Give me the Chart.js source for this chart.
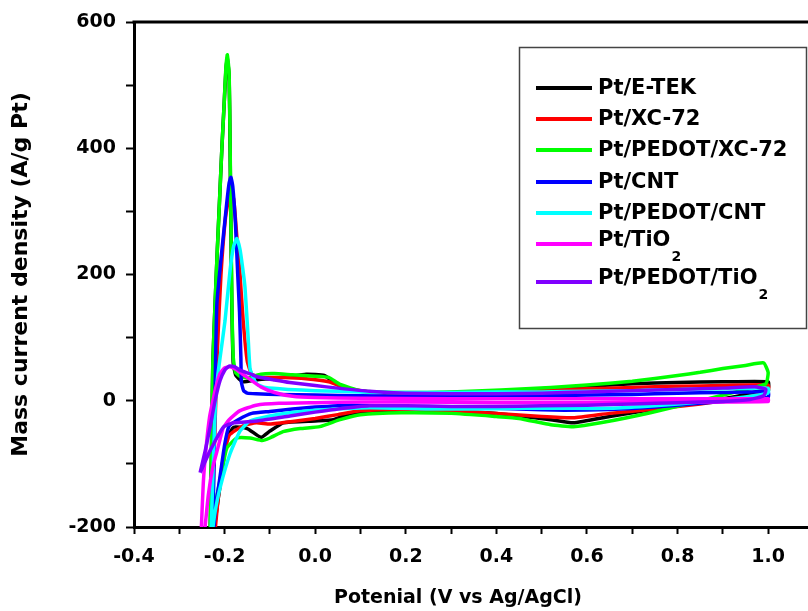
<!DOCTYPE html>
<html>
<head>
<meta charset="utf-8">
<script src="https://cdn.jsdelivr.net/npm/chart.js@4.4.1/dist/chart.umd.min.js"></script>
<style>
  body { margin: 0; background: #fff; }
</style>
</head>
<body>
<canvas id="cv" width="808" height="611"></canvas>
<script>
/* Series (potencial en V vs Ag/AgCl, corriente en A/g Pt) */
const nombres = ["Pt/E-TEK", "Pt/XC-72", "Pt/PEDOT/XC-72", "Pt/CNT", "Pt/PEDOT/CNT", "Pt/TiO2", "Pt/PEDOT/TiO2"];
const colores = ["#000000", "#ff0000", "#00ff00", "#0000ff", "#00ffff", "#ff00ff", "#8000ff"];

const etekV = [-0.232, -0.229, -0.226, -0.221, -0.216, -0.211, -0.206, -0.201, -0.197, -0.194, -0.190, -0.188, -0.186, -0.184, -0.181, -0.175, -0.16, -0.13, -0.10, -0.06, -0.02, 0.02, 0.05, 0.10, 0.2, 0.3, 0.4, 0.5, 0.6, 0.7, 0.8, 0.9, 1.0,
               1.0, 0.95, 0.85, 0.75, 0.65, 0.57, 0.52, 0.45, 0.4, 0.3, 0.2, 0.12, 0.07, 0.04, 0.0, -0.07, -0.10, -0.12, -0.15, -0.18, -0.195, -0.205, -0.215, -0.225];
const etekI = [-214, -80, 60, 154, 240, 320, 400, 470, 525, 542, 515, 410, 270, 150, 60, 40, 30, 33, 35, 38, 42, 40, 25, 15, 12, 12, 15, 19, 23, 27, 29, 30, 30,
               20, 10, -3, -13, -25, -35, -30, -24, -20, -17, -15, -17, -22, -30, -32, -35, -48, -58, -44, -42, -60, -110, -160, -214];

const xc72V = [-0.228, -0.222, -0.216, -0.208, -0.198, -0.188, -0.180, -0.173, -0.166, -0.159, -0.150, -0.140, -0.12, -0.07, -0.02, 0.03, 0.07, 0.12, 0.2, 0.3, 0.4, 0.5, 0.6, 0.7, 0.8, 0.9, 1.0,
               1.0, 0.95, 0.85, 0.75, 0.65, 0.57, 0.5, 0.4, 0.3, 0.2, 0.1, 0.05, 0.0, -0.05, -0.10, -0.13, -0.16, -0.19, -0.205, -0.215, -0.222];
const xc72I = [-214, -60, 80, 200, 290, 330, 320, 260, 200, 127, 63, 42, 37, 37, 35, 30, 20, 14, 12, 13, 15, 17, 19, 21, 23, 24, 25,
               15, 5, -5, -13, -20, -27, -25, -20, -16, -14, -16, -22, -28, -33, -37, -35, -40, -55, -100, -160, -214];

const pedotXcV = [-0.232, -0.229, -0.226, -0.221, -0.216, -0.211, -0.206, -0.201, -0.197, -0.194, -0.190, -0.188, -0.186, -0.184, -0.181, -0.176, -0.165, -0.15, -0.12, -0.09, -0.05, 0.0, 0.03, 0.055, 0.1, 0.19, 0.3, 0.41, 0.52, 0.6, 0.7, 0.8, 0.85, 0.9, 0.95, 0.99, 1.0, 0.995,
                  0.94, 0.85, 0.74, 0.63, 0.57, 0.52, 0.45, 0.40, 0.3, 0.19, 0.1, 0.055, 0.01, -0.033, -0.071, -0.10, -0.117, -0.144, -0.173, -0.195, -0.206, -0.219, -0.228];
const pedotXcI = [-214, -80, 60, 154, 240, 320, 400, 470, 530, 548, 520, 420, 280, 160, 70, 45, 38, 36, 42, 43, 41, 39, 37, 26, 16, 13, 14, 17, 21, 25, 31, 40, 45, 51, 56, 60, 45, 27,
                  16, 0, -19, -35, -41, -38, -28, -25, -20, -19, -22, -30, -41, -44, -49, -59, -63, -59, -59, -75, -111, -159, -214];

const cntV = [-0.226, -0.223, -0.220, -0.217, -0.210, -0.203, -0.195, -0.190, -0.186, -0.182, -0.176, -0.171, -0.167, -0.164, -0.163, -0.158, -0.15, -0.13, -0.08, 0.0, 0.1, 0.2, 0.3, 0.4, 0.5, 0.6, 0.7, 0.8, 0.9, 1.0,
              1.0, 0.95, 0.85, 0.75, 0.65, 0.55, 0.45, 0.35, 0.25, 0.15, 0.08, 0.0, -0.05, -0.10, -0.14, -0.17, -0.19, -0.20, -0.21, -0.22, -0.225];
const cntI = [-214, -80, 60, 154, 210, 259, 315, 345, 354, 340, 280, 200, 140, 68, 30, 16, 12, 11, 10, 9, 8, 7, 7, 7, 8, 9, 10, 12, 13, 14,
              6, 2, -4, -10, -14, -15, -13, -11, -10, -8, -7, -10, -13, -17, -20, -30, -40, -70, -120, -170, -214];

const pedotCntV = [-0.230, -0.225, -0.220, -0.215, -0.210, -0.199, -0.188, -0.180, -0.173, -0.166, -0.160, -0.155, -0.148, -0.144, -0.137, -0.128, -0.11, -0.06, 0.0, 0.1, 0.2, 0.3, 0.4, 0.5, 0.6, 0.7, 0.8, 0.9, 1.0,
                   1.0, 0.95, 0.85, 0.75, 0.65, 0.55, 0.45, 0.35, 0.25, 0.12, 0.0, -0.056, -0.10, -0.144, -0.166, -0.188, -0.21, -0.222, -0.228];
const pedotCntI = [-214, -100, 0, 40, 68, 127, 206, 245, 257, 240, 210, 180, 100, 52, 37, 26, 21, 18, 16, 14, 13, 13, 14, 14, 15, 16, 18, 19, 20,
                   12, 6, -2, -8, -12, -12, -12, -13, -13, -11, -15, -19, -24, -32, -48, -84, -138, -180, -214];

const tio2V = [-0.252, -0.247, -0.240, -0.233, -0.226, -0.218, -0.210, -0.200, -0.188, -0.175, -0.160, -0.14, -0.12, -0.09, -0.05, 0.0, 0.1, 0.3, 0.5, 0.7, 0.9, 1.0,
               1.0, 0.8, 0.6, 0.4, 0.2, 0.1, 0.0, -0.08, -0.13, -0.167, -0.19, -0.203, -0.215, -0.226, -0.236, -0.245];
const tio2I = [-214, -130, -68, -25, 0, 25, 43, 52, 54, 50, 42, 32, 22, 13, 7, 5, 4, 3, 3, 3, 3, 3,
               -1, -2, -3, -3, -2, -2, -3, -4, -7, -16, -30, -43, -75, -105, -150, -214];

const pedotTio2V = [-0.254, -0.243, -0.232, -0.221, -0.210, -0.200, -0.190, -0.178, -0.165, -0.145, -0.128, -0.09, -0.056, 0.0, 0.05, 0.12, 0.2, 0.3, 0.4, 0.5, 0.6, 0.7, 0.8, 0.9, 0.97, 0.995, 0.99, 0.96,
                    0.9, 0.8, 0.7, 0.6, 0.5, 0.4, 0.3, 0.2, 0.12, 0.05, 0.0, -0.056, -0.128, -0.181, -0.203, -0.232, -0.254];
const pedotTio2I = [-114, -80, -42, 0, 32, 48, 55, 54, 48, 43, 38, 33, 29, 24, 20, 15, 12, 11, 11, 12, 14, 16, 18, 20, 22, 18, 8, 2,
                    -1, -3, -5, -7, -8, -9, -9, -8, -8, -13, -18, -24, -32, -35, -42, -79, -114];

const seriesV = [etekV, xc72V, pedotXcV, cntV, pedotCntV, tio2V, pedotTio2V];
const seriesI = [etekI, xc72I, pedotXcI, cntI, pedotCntI, tio2I, pedotTio2I];

/* Armar datasets */
function crearSerie(i) {
    let puntos = seriesV[i].map((v, k) => ({ x: v, y: seriesI[i][k] }));
    return {
        label: nombres[i],
        data: puntos,
        showLine: true,
        borderColor: colores[i],
        backgroundColor: colores[i],
        borderWidth: 3.5,
        pointRadius: 0,
        tension: 0.15,
        order: nombres.length - i
    };
}

const FUENTE = "'DejaVu Sans', sans-serif";

/* Marco superior, titulo del eje x y leyenda */
const extras = {
    id: "extras",
    afterDraw(chart) {
        const ctx = chart.ctx;
        const a = chart.chartArea;
        ctx.save();

        ctx.strokeStyle = "#000";
        ctx.lineWidth = 3;
        ctx.beginPath();
        ctx.moveTo(a.left - 1.5, a.top);
        ctx.lineTo(a.right, a.top);
        ctx.stroke();

        ctx.fillStyle = "#000";
        ctx.font = "bold 19px " + FUENTE;
        ctx.textAlign = "center";
        ctx.textBaseline = "middle";
        ctx.fillText("Potenial (V vs Ag/AgCl)", 458, 598);

        // leyenda
        ctx.strokeStyle = "#444";
        ctx.lineWidth = 1.5;
        ctx.strokeRect(519.5, 47.5, 287, 281);

        const filas = [88, 119, 150, 182, 213, 244, 282];
        ctx.textAlign = "left";
        nombres.forEach((n, i) => {
            let y = filas[i];
            ctx.strokeStyle = colores[i];
            ctx.lineWidth = 4;
            ctx.beginPath();
            ctx.moveTo(536, y);
            ctx.lineTo(592, y);
            ctx.stroke();

            ctx.fillStyle = "#000";
            let m = n.match(/^(.*TiO)(2)$/);
            if (m) {
                ctx.font = "bold 21px " + FUENTE;
                ctx.fillText(m[1], 598, y - 3);
                let w = ctx.measureText(m[1]).width;
                ctx.font = "bold 14px " + FUENTE;
                ctx.fillText(m[2], 598 + w + 1, y + 13);
            } else {
                ctx.font = "bold 21px " + FUENTE;
                ctx.fillText(n, 598, y + 1);
            }
        });
        ctx.restore();
    }
};

new Chart(document.getElementById("cv"), {
    type: "scatter",
    data: { datasets: nombres.map((n, i) => crearSerie(i)) },
    options: {
        responsive: false,
        animation: false,
        layout: { padding: { top: 22, left: 0, right: 0, bottom: 0 } },
        plugins: { legend: { display: false }, tooltip: { enabled: false } },
        scales: {
            x: {
                type: "linear",
                min: -0.4,
                max: 1.088,
                afterFit: (s) => { s.height = 84; },
                border: { display: true, color: "#000", width: 3 },
                grid: { display: true, drawOnChartArea: false, drawTicks: true, tickLength: 7, tickWidth: 2, color: "#000" },
                ticks: {
                    stepSize: 0.1,
                    includeBounds: false,
                    padding: 12,
                    color: "#000",
                    font: { family: FUENTE, size: 19, weight: "bold" },
                    maxRotation: 0,
                    autoSkip: false,
                    callback: (v) => (Math.round(v * 10) % 2 === 0 ? Number(v).toFixed(1) : "")
                }
            },
            y: {
                min: -200,
                max: 600,
                afterFit: (s) => { s.width = 134; },
                border: { display: true, color: "#000", width: 3 },
                grid: { display: true, drawOnChartArea: false, drawTicks: true, tickLength: 8, tickWidth: 2, color: "#000" },
                title: {
                    display: true,
                    text: "Mass current density (A/g Pt)",
                    color: "#000",
                    font: { family: FUENTE, size: 22, weight: "bold" },
                    padding: { top: 8, bottom: 0 }
                },
                ticks: {
                    stepSize: 100,
                    padding: 10,
                    color: "#000",
                    font: { family: FUENTE, size: 19, weight: "bold" },
                    autoSkip: false,
                    callback: (v) => (v % 200 === 0 ? String(v) : "")
                }
            }
        }
    },
    plugins: [extras]
});
</script>
</body>
</html>
